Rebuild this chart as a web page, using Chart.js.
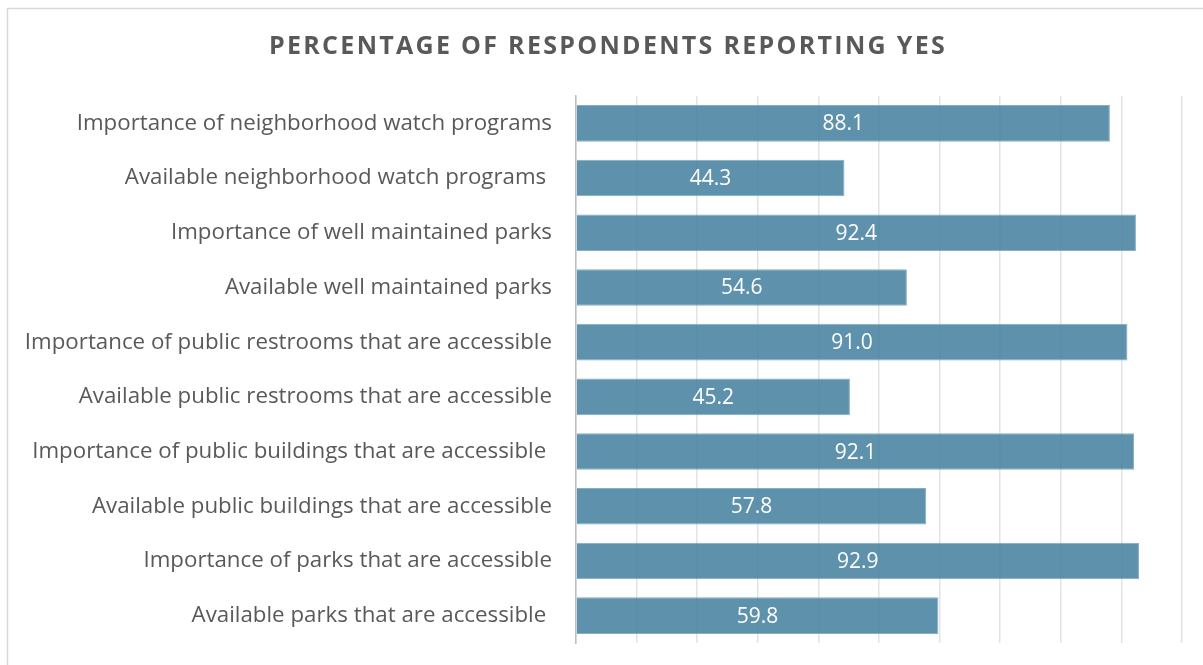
<!DOCTYPE html>
<html>
<head>
<meta charset="utf-8">
<script src="https://cdn.jsdelivr.net/npm/chart.js@4"></script>
<style>
  html, body { margin: 0; padding: 0; background: #fff; }
  #wrap { position: relative; width: 1203px; height: 665px; }
</style>
</head>
<body>
<div id="wrap"><canvas id="chart" width="1203" height="665"></canvas></div>
<script>
  'use strict';

  // Survey items, top to bottom
  const labels = [
    'Importance of neighborhood watch programs',
    'Available neighborhood watch programs ',
    'Importance of well maintained parks',
    'Available well maintained parks',
    'Importance of public restrooms that are accessible',
    'Available public restrooms that are accessible',
    'Importance of public buildings that are accessible ',
    'Available public buildings that are accessible',
    'Importance of parks that are accessible',
    'Available parks that are accessible '
  ];

  // % of respondents answering yes
  const yesPct = [88.1, 44.3, 92.4, 54.6, 91.0, 45.2, 92.1, 57.8, 92.9, 59.8];

  const TITLE = 'PERCENTAGE OF RESPONDENTS REPORTING YES';
  const TEXT_GREY = '#595959';

  // Light frame + spaced title
  const framePlugin = {
    id: 'frame',
    beforeDraw(chart) {
      const ctx = chart.ctx;
      ctx.save();
      ctx.strokeStyle = '#d9d9d9';
      ctx.lineWidth = 1.5;
      ctx.strokeRect(7.5, 8.5, 1400, 800);
      ctx.restore();
    },
    afterDraw(chart) {
      const ctx = chart.ctx;
      ctx.save();
      ctx.font = 'bold 25px "Open Sans"';
      ctx.letterSpacing = '2.3px';
      ctx.fillStyle = TEXT_GREY;
      ctx.textAlign = 'center';
      ctx.textBaseline = 'middle';
      ctx.fillText(TITLE, 608, 47);
      ctx.restore();
    }
  };

  // Value printed in the middle of each bar
  const valueLabels = {
    id: 'valueLabels',
    afterDatasetsDraw(chart) {
      const ctx = chart.ctx;
      const meta = chart.getDatasetMeta(0);
      ctx.save();
      ctx.font = '21px "Open Sans"';
      ctx.fillStyle = '#ffffff';
      ctx.textAlign = 'center';
      ctx.textBaseline = 'middle';
      meta.data.forEach((bar, i) => {
        const cx = (bar.x + bar.base) / 2;
        ctx.fillText(yesPct[i].toFixed(1), cx, bar.y + 1);
      });
      ctx.restore();
    }
  };

  new Chart(document.getElementById('chart'), {
    type: 'bar',
    data: {
      labels,
      datasets: [{
        data: yesPct,
        backgroundColor: 'rgba(72, 131, 160, 0.88)',
        borderColor: 'rgba(120, 165, 188, 0.9)',
        borderWidth: 1,
        categoryPercentage: 1,
        barPercentage: 0.67
      }]
    },
    options: {
      indexAxis: 'y',
      responsive: false,
      animation: false,
      layout: { padding: { top: 96, right: 21, bottom: 22, left: 0 } },
      plugins: {
        legend: { display: false },
        title: { display: false },
        tooltip: { enabled: false }
      },
      scales: {
        x: {
          min: 0,
          max: 100,
          ticks: { display: false, stepSize: 10 },
          grid: { color: '#e3e3e3', lineWidth: 1.5, drawTicks: false },
          border: { display: false },
          afterFit(scale) { scale.height = 0; }
        },
        y: {
          grid: { display: false, drawTicks: false },
          border: { display: true, color: '#bfbfbf', width: 1.5 },
          ticks: {
            color: TEXT_GREY,
            font: { family: '"Open Sans"', size: 22.3 },
            padding: 24
          },
          afterFit(scale) {
            scale.width = 576;
            // labels sit inside their bands, no overflow room needed
            scale.paddingTop = 0;
            scale.paddingBottom = 0;
          }
        }
      }
    },
    plugins: [framePlugin, valueLabels]
  });
</script>
</body>
</html>
